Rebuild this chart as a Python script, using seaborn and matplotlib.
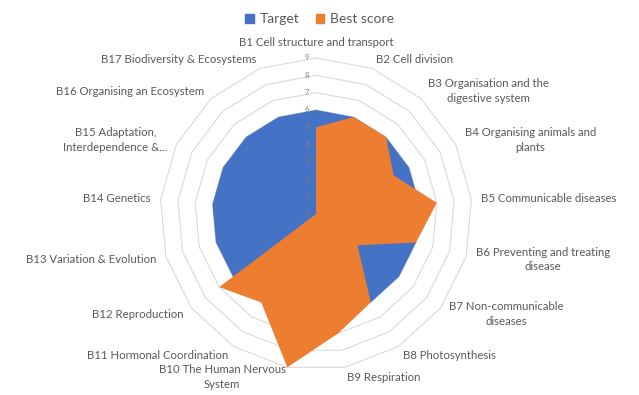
import numpy as np
import pandas as pd
import matplotlib
matplotlib.use("Agg")
import matplotlib.pyplot as plt
import seaborn as sns
from matplotlib.patches import Patch
from matplotlib.transforms import offset_copy

topics = ['B1 Cell structure and transport', 'B2 Cell division',
          'B3 Organisation and the\ndigestive system', 'B4 Organising animals and\nplants',
          'B5 Communicable diseases', 'B6 Preventing and treating\ndisease',
          'B7 Non-communicable\ndiseases', 'B8 Photosynthesis', 'B9 Respiration',
          'B10 The Human Nervous\nSystem', 'B11 Hormonal Coordination', 'B12 Reproduction',
          'B13 Variation & Evolution', 'B14 Genetics', 'B15 Adaptation,\nInterdependence &...',
          'B16 Organising an Ecosystem', 'B17 Biodiversity & Ecosystems']
target = [6, 6, 6, 6, 6, 6, 6, 6, 6, 6, 6, 6, 6, 6, 6, 6, 6]
best_score = [5, 6, 6, 5, 7, 6, 3, 6, 7, 9, 6, 7, 0, 0, 0, 0, 0]
scale = [0, 1, 2, 3, 4, 5, 6, 7, 8, 9]

sns.set_style("white")
plt.rcParams['font.family'] = ['Lato', 'DejaVu Sans']
text_col = '#595959'
blue, orange = '#4472C4', '#ED7D31'

df = pd.DataFrame({'topic': topics, 'Target': target, 'Best score': best_score})
n = len(df)
theta = np.linspace(0, 2 * np.pi, n, endpoint=False)
theta_c = np.append(theta, theta[0])

fig = plt.figure(figsize=(6.39, 3.95), dpi=100)
ax = fig.add_axes([0.2504, 0.0633, 0.4883, 0.7899], projection='polar')
ax.set_theta_offset(np.pi / 2)
ax.set_theta_direction(-1)
ax.set_ylim(0, scale[-1])
ax.grid(False)
ax.spines['polar'].set_visible(False)
ax.set_xticks([])
ax.set_yticks([])

# polygon rings
for r in scale[1:]:
    ax.plot(theta_c, [r] * (n + 1), color='#D9D9D9', lw=0.8, zorder=1, clip_on=False)

for col, c in [('Target', blue), ('Best score', orange)]:
    vals = df[col].tolist()
    ax.fill(theta_c, vals + vals[:1], color=c, lw=0, zorder=2)

# radial tick labels
tr = offset_copy(ax.transData, fig=fig, x=-9, y=0, units='dots')
for r in scale:
    ax.text(0, r, str(r), transform=tr, ha='center', va='center',
            fontsize=5.5, color='#7F7F7F', zorder=3)

# category labels
lab_r = 9.58
for t, lab in zip(theta, df['topic']):
    deg = np.degrees(t)
    if np.isclose(deg, 0):
        ha, va = 'center', 'bottom'
    elif deg < 180:
        ha, va = 'left', 'center'
    else:
        ha, va = 'right', 'center'
    ax.text(t, lab_r, lab, ha=ha, va=va, multialignment='center',
            fontsize=8.2, color=text_col, clip_on=False, linespacing=1.4)

handles = [Patch(color=blue, label='Target'), Patch(color=orange, label='Best score')]
fig.legend(handles=handles, loc='center', bbox_to_anchor=(0.5, 1 - 19 / 395), ncol=2,
           frameon=False, fontsize=10, handlelength=0.6, handleheight=0.6,
           handletextpad=0.4, columnspacing=1.2, labelcolor=text_col)

fig.savefig('out.png', dpi=100)
